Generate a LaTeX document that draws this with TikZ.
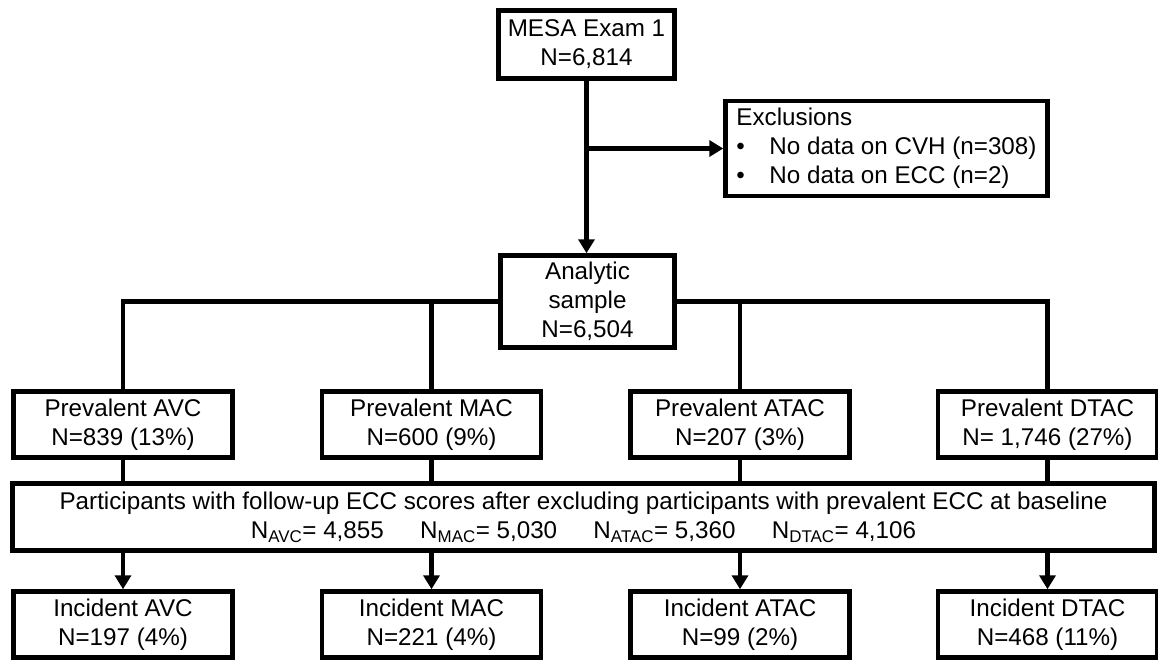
\documentclass[tikz,border=0pt]{standalone}
\usepackage{fontspec}
\setmainfont{Liberation Sans}
\usetikzlibrary{positioning, arrows.meta}

\begin{document}
\begin{tikzpicture}[x=1pt, y=-1pt, >={Triangle[width=16pt, length=14pt]},
        line width=4.5pt,
        box/.style={draw, line width=4.5pt, inner sep=0pt, align=center,
            minimum width=219pt, minimum height=66pt,
            font=\fontsize{24.2pt}{29pt}\selectfont}]
    \useasboundingbox (0,0) rectangle (1158,662);

    % cohort and exclusions
    \node[box, minimum width=176pt, minimum height=68pt] (mesa) at (586.5,44.5) {MESA Exam 1\\N=6,814};
    \node[box, minimum width=322pt, minimum height=95pt, align=left] (excl) at (886.5,148.5)
        {Exclusions\\\makebox[33pt][l]{\textbullet}No data on CVH (n=308)\\\makebox[33pt][l]{\textbullet}No data on ECC (n=2)};
    \node[box, minimum width=174pt, minimum height=92pt] (sample) at (587.5,301.5) {Analytic\\sample\\N=6,504};

    % prevalent ECC
    \node[box] (avcP) at (123,424.5) {Prevalent AVC\\N=839 (13\%)};
    \node[box] (macP) at (431.5,424.5) {Prevalent MAC\\N=600 (9\%)};
    \node[box] (atacP) at (740,424.5) {Prevalent ATAC\\N=207 (3\%)};
    \node[box] (dtacP) at (1047.5,424.5) {Prevalent DTAC\\N= 1,746 (27\%)};

    % follow-up
    \node[box, minimum width=1142pt, minimum height=67pt] (part) at (583.5,517)
        {Participants with follow-up ECC scores after excluding participants with prevalent ECC at baseline\\
        N\textsubscript{AVC}= 4,855\hspace{1.5em}N\textsubscript{MAC}= 5,030\hspace{1.5em}N\textsubscript{ATAC}= 5,360\hspace{1.5em}N\textsubscript{DTAC}= 4,106};

    % incident ECC
    \node[box] (avcI) at (123,624.5) {Incident AVC\\N=197 (4\%)};
    \node[box] (macI) at (431.5,624.5) {Incident MAC\\N=221 (4\%)};
    \node[box] (atacI) at (740,624.5) {Incident ATAC\\N=99 (2\%)};
    \node[box] (dtacI) at (1047.5,624.5) {Incident DTAC\\N=468 (11\%)};

    \draw[->] (mesa.south) -- (mesa.south |- sample.north);
    \draw[->] (mesa.south |- excl.west) -- (excl.west);

    \draw (sample.west) -| (avcP.north);
    \draw (sample.east) -| (dtacP.north);
    \draw (macP.north) -- (macP.north |- sample.west);
    \draw (atacP.north) -- (atacP.north |- sample.east);

    \foreach \c in {avc, mac, atac, dtac} {
        \draw (\c P.south) -- (\c P.south |- part.north);
        \draw[->] (\c I.north |- part.south) -- (\c I.north);
    }
\end{tikzpicture}
\end{document}
